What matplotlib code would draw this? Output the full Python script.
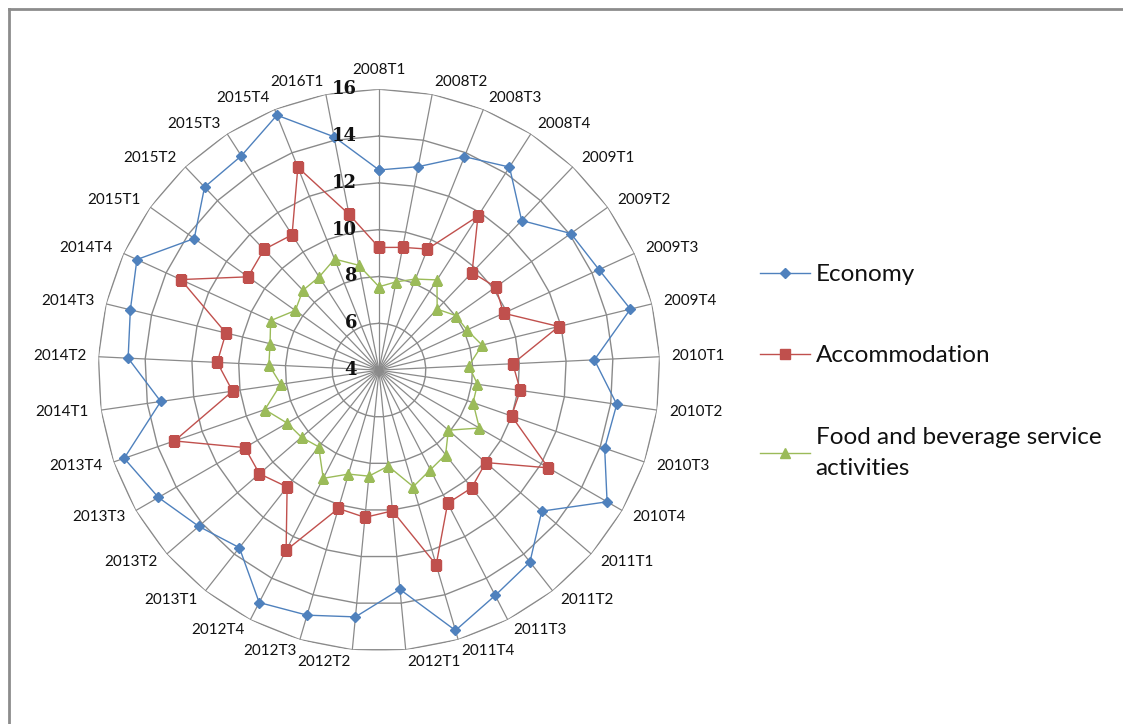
import numpy as np
import matplotlib.pyplot as plt
from matplotlib.lines import Line2D

plt.rcParams['font.family'] = ['Lato', 'DejaVu Sans']

quarters = ['2008T1', '2008T2', '2008T3', '2008T4',
            '2009T1', '2009T2', '2009T3', '2009T4',
            '2010T1', '2010T2', '2010T3', '2010T4',
            '2011T1', '2011T2', '2011T3', '2011T4',
            '2012T1', '2012T2', '2012T3', '2012T4',
            '2013T1', '2013T2', '2013T3', '2013T4',
            '2014T1', '2014T2', '2014T3', '2014T4',
            '2015T1', '2015T2', '2015T3', '2015T4',
            '2016T1']

economy = [12.55, 12.85, 13.82, 14.31, 12.83, 14.06, 14.33, 15.05,
           13.21, 14.26, 14.20, 15.25, 13.20, 14.43, 14.83, 15.59,
           13.41, 14.59, 14.91, 15.17, 13.65, 14.19, 14.88, 15.52,
           13.42, 14.73, 14.93, 15.37, 13.69, 14.80, 14.88, 15.73,
           14.15]
accommodation = [9.24, 9.34, 9.57, 11.82, 9.76, 10.12, 9.85, 11.90,
                 9.72, 10.10, 9.99, 12.35, 10.03, 10.40, 10.40, 12.67,
                 10.04, 10.32, 10.16, 12.66, 10.35, 10.76, 10.62, 13.25,
                 10.32, 10.92, 10.73, 13.31, 10.87, 11.12, 10.87, 13.33,
                 10.78]
food = [7.56, 7.84, 8.19, 8.58, 7.60, 8.02, 8.13, 8.53,
        7.84, 8.25, 8.25, 8.95, 7.92, 8.60, 8.79, 9.19,
        8.12, 8.55, 8.63, 9.20, 8.17, 8.38, 8.53, 9.16,
        8.24, 8.71, 8.79, 9.09, 8.39, 8.71, 8.73, 9.11,
        8.56]

ring_values = [4, 6, 8, 10, 12, 14, 16]

series = [
    ('Economy', economy, '#4F81BD', 'D', 5),
    ('Accommodation', accommodation, '#C0504D', 's', 7),
    ('Food and beverage service\nactivities', food, '#9BBB59', '^', 7),
]

fig = plt.figure(figsize=(11.23, 7.24), dpi=100)
ax = fig.add_axes([0.0873, 0.1008, 0.5004, 0.776], projection='polar')
ax.set_theta_zero_location('N')
ax.set_theta_direction(-1)
ax.set_ylim(4, 16)

n = len(quarters)
theta = np.arange(n) * 2 * np.pi / n
theta_c = np.append(theta, theta[0])

# spokes
ax.set_xticks(theta)
ax.set_xticklabels([])
ax.xaxis.grid(True, color='#8a8a8a', lw=0.9)
ax.set_yticks([])
ax.spines['polar'].set_visible(False)

# polygon rings (Excel style)
for r in ring_values[1:]:
    ax.plot(theta_c, [r] * (n + 1), color='#8a8a8a', lw=1.0, zorder=1)

for name, vals, col, mk, ms in series:
    v = np.append(vals, vals[0])
    ax.plot(theta_c, v, color=col, lw=1.0, marker=mk, markersize=ms,
            markerfacecolor=col, markeredgecolor=col, label=name, zorder=3)

# radial value labels
for r in ring_values:
    ax.annotate(str(r), xy=(0, r), xytext=(-22, 0), textcoords='offset pixels',
                ha='right', va='center', fontsize=13, fontweight='bold',
                family='DejaVu Serif', color='#111111', zorder=4)

# category labels
for t, lab in zip(theta, quarters):
    s, c = np.sin(t), np.cos(t)
    if abs(s) < 1e-6:
        ha = 'center'
        va = 'bottom' if c > 0 else 'top'
    else:
        ha = 'left' if s > 0 else 'right'
        va = 'center'
    ax.annotate(lab, xy=(t, 16), xytext=(12 * s, 12 * c),
                textcoords='offset pixels', ha=ha, va=va,
                fontsize=11, color='#111111', annotation_clip=False)

leg = fig.legend(loc='upper left', bbox_to_anchor=(0.657, 0.665), frameon=False,
                 fontsize=17.5, labelspacing=2.47, handlelength=2.05,
                 handletextpad=0.25)
for txt in leg.get_texts():
    txt.set_linespacing(1.6)
    txt.set_color('#111111')

# chart frame (top and left edges)
fig.add_artist(Line2D([9 / 1123, 9 / 1123], [0, 1 - 9 / 724], transform=fig.transFigure,
                      color='#8c8c8c', lw=2))
fig.add_artist(Line2D([9 / 1123, 1], [1 - 9 / 724, 1 - 9 / 724], transform=fig.transFigure,
                      color='#8c8c8c', lw=2))

fig.savefig('out.png', dpi=100)
